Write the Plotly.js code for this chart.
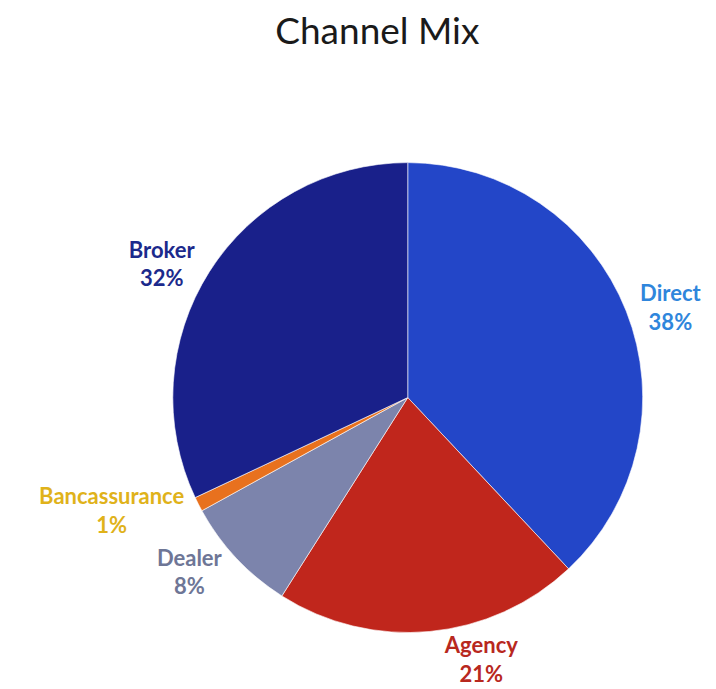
<!DOCTYPE html>
<html><head><meta charset="utf-8">
<script src="https://cdn.plot.ly/plotly-3.0.1.min.js"></script>
<style>html,body{margin:0;padding:0;background:#fff}#chart{width:716px;height:689px}</style>
</head><body><div id="chart"></div>
<script>
const channels = ["Direct", "Agency", "Dealer", "Bancassurance", "Broker"];
const shares = [38, 21, 8, 1, 32];
const sliceColors = ["#2346c8", "#c0261c", "#7c84ac", "#e8711e", "#19208a"];
const labelColors = ["#2f86dc", "#b8281e", "#6e7696", "#e0b21a", "#1c2a8c"];

const trace = {
  type: "pie",
  labels: channels,
  values: shares,
  sort: false,
  direction: "clockwise",
  rotation: 0,
  marker: {colors: sliceColors, line: {color: "#ffffff", width: 0.6}},
  textposition: "outside",
  texttemplate: "<b>%{label}</b><br><b>%{value}%</b>",
  outsidetextfont: {family: "Lato, 'Open Sans', sans-serif", size: 22, color: labelColors},
  hoverinfo: "label+percent",
  showlegend: false,
  automargin: false,
  domain: {x: [0.240, 0.899], y: [0.082, 0.764]}
};
const layout = {
  width: 716, height: 689,
  margin: {l: 0, r: 0, t: 0, b: 0},
  paper_bgcolor: "#ffffff",
  title: {text: "Channel Mix", x: 0.527, xanchor: "center", xref: "paper", y: 0.955, yanchor: "middle",
          font: {family: "Lato, 'Open Sans', sans-serif", size: 37, color: "#1a1a1a"}},
  showlegend: false
};
Plotly.newPlot("chart", [trace], layout, {displayModeBar: false, staticPlot: true});
</script></body></html>
